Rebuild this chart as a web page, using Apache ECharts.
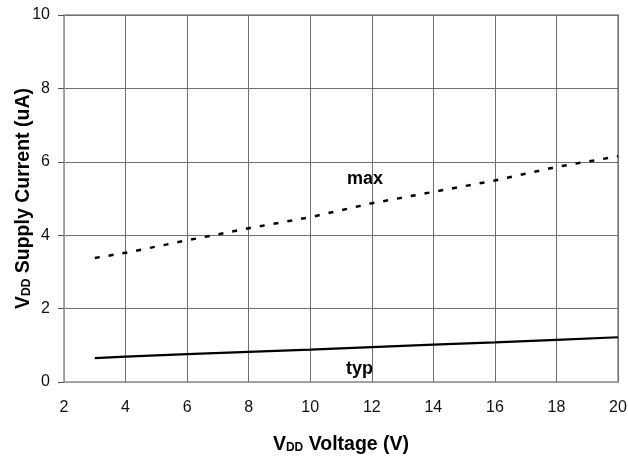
<!DOCTYPE html>
<html>
<head>
<meta charset="utf-8">
<script src="https://cdn.jsdelivr.net/npm/echarts@6/dist/echarts.min.js"></script>
<style>
  html, body { margin: 0; padding: 0; background: #fff; }
  #chart { width: 628px; height: 458px; }
</style>
</head>
<body>
<div id="chart"></div>
<script>
// supply voltage (V)
var voltage = [3, 4, 6, 8, 10, 12, 14, 16, 18, 20];
// supply current (uA)
var maxCurrent = [3.38, 3.52, 3.86, 4.19, 4.49, 4.87, 5.18, 5.49, 5.86, 6.15];
var typCurrent = [0.65, 0.69, 0.76, 0.82, 0.88, 0.95, 1.02, 1.08, 1.15, 1.22];

function pairs(xs, ys) {
    var out = [];
    for (var i = 0; i < xs.length; i++) {
        out.push([xs[i], ys[i]]);
    }
    return out;
}

var myChart = echarts.init(document.getElementById('chart'));
var font = 'Liberation Sans, Arial, sans-serif';

// axis title with the DD subscript
var nameRich = {
    v: {fontSize: 19.5, fontWeight: 'bold', color: '#000', fontFamily: font},
    sub: {fontSize: 12, fontWeight: 'bold', color: '#000', fontFamily: font, padding: [6, 0, 0, 0]}
};

var option = {
    animation: false,
    textStyle: {fontFamily: font},
    grid: {
        left: 64, right: 10, top: 15, bottom: 76,
        outerBoundsMode: 'none',
        containLabel: false,
        show: true, borderColor: '#aaa', borderWidth: 2
    },
    xAxis: {
        type: 'value',
        min: 2, max: 20, interval: 2,
        name: '{v|V}{sub|DD}{v| Voltage (V)}',
        nameLocation: 'middle',
        nameGap: 53,
        nameMoveOverlap: false,
        nameTextStyle: {rich: nameRich},
        axisLine: {show: true, lineStyle: {color: '#999', width: 1}},
        axisTick: {show: false},
        axisLabel: {fontSize: 16, color: '#111', margin: 18},
        splitLine: {show: true, lineStyle: {color: '#6f6f6f', width: 1}}
    },
    yAxis: {
        type: 'value',
        min: 0, max: 10, interval: 2,
        name: '{v|V}{sub|DD}{v| Supply Current (uA)}',
        nameLocation: 'middle',
        nameGap: 30,
        nameMoveOverlap: false,
        nameTextStyle: {rich: nameRich},
        axisLine: {show: true, lineStyle: {color: '#999', width: 1}},
        axisTick: {show: true, length: 6, lineStyle: {color: '#555'}},
        axisLabel: {fontSize: 16, color: '#111', margin: 14},
        splitLine: {show: true, lineStyle: {color: '#6f6f6f', width: 1}}
    },
    series: [
        {
            name: 'max',
            type: 'line',
            symbol: 'none',
            data: pairs(voltage, maxCurrent),
            lineStyle: {color: '#000', width: 2.5, type: [5, 9]}
        },
        {
            name: 'typ',
            type: 'line',
            symbol: 'none',
            data: pairs(voltage, typCurrent),
            lineStyle: {color: '#000', width: 2.2, type: 'solid'}
        }
    ],
    graphic: [
        {type: 'text', left: 347, top: 170,
         style: {text: 'max', fill: '#000', font: 'bold 18px ' + font}},
        {type: 'text', left: 346, top: 360,
         style: {text: 'typ', fill: '#000', font: 'bold 18px ' + font}}
    ]
};

myChart.setOption(option);
</script>
</body>
</html>
